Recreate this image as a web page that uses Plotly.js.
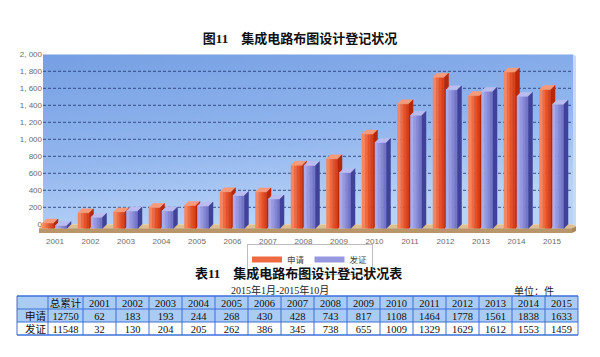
<!DOCTYPE html>
<html>
<head>
<meta charset="utf-8">
<script src="https://cdn.plot.ly/plotly-3.0.1.min.js"></script>
<style>html,body{margin:0;padding:0;background:#fff;}#chart{width:600px;height:357px;}</style>
</head>
<body>
<div id="chart"></div>
<script>
// ---- data ----
const years = ['2001','2002','2003','2004','2005','2006','2007','2008','2009','2010','2011','2012','2013','2014','2015'];
const applyCounts = [62,183,193,244,268,430,428,743,817,1108,1464,1778,1561,1838,1633];
const grantCounts = [32,130,204,205,262,386,345,738,655,1009,1329,1629,1612,1553,1459];
const applyTotal = 12750;
const grantTotal = 11548;
const seriesNames = ['申请','发证'];
const yTickVals = [0,200,400,600,800,1000,1200,1400,1600,1800,2000];
const yTickText = ['0','200','400','600','800','1, 000','1, 200','1, 400','1, 600','1, 800','2, 000'];
const tableHeader = ['', '总累计'].concat(years);

// ---- geometry (pixels -> data units) ----
const W = 600, H = 357;
const plotL = 36, plotR = 577, plotT = 50, plotB = 235;
const cat0Px = 55, zeroPx = 224.3;
const PXX = 35.5;          // px per category
const PXY = 0.085;         // px per unit value
const DX = 4 / PXX, DY = 4 / PXY;
const xRange = [-(cat0Px - plotL) / PXX, (plotR - cat0Px) / PXX];
const yRange = [-(plotB - zeroPx) / PXY, (zeroPx - plotT) / PXY];
const wallL = (43 - cat0Px) / PXX, wallR = (573 - cat0Px) / PXX;
const wallTop = 2000;

function buildFaces(vals, leftPx, rightPx, nStrips) {
  const strips = [];
  for (let s = 0; s < nStrips; s++) strips.push({x: [], y: []});
  const top = {x: [], y: []}, side = {x: [], y: []};
  const push = (o, pts) => { pts.forEach(p => { o.x.push(p[0]); o.y.push(p[1]); }); o.x.push(null); o.y.push(null); };
  vals.forEach((v, i) => {
    const x0 = i + leftPx / PXX, x1 = i + rightPx / PXX;
    for (let s = 0; s < nStrips; s++) {
      const xa = x0 + (x1 - x0) * s / nStrips, xb = x0 + (x1 - x0) * (s + 1) / nStrips;
      push(strips[s], [[xa, -DY], [xb, -DY], [xb, v - DY], [xa, v - DY], [xa, -DY]]);
    }
    push(top, [[x0, v - DY], [x1, v - DY], [x1 + DX, v], [x0 + DX, v], [x0, v - DY]]);
    push(side, [[x1, -DY], [x1 + DX, 0], [x1 + DX, v], [x1, v - DY], [x1, -DY]]);
  });
  return {strips, top, side};
}

function polyTrace(o, color, name, showlegend) {
  return {type: 'scatter', mode: showlegend ? 'none' : 'lines', x: o.x, y: o.y, fill: 'toself', fillcolor: color,
    line: {color: color, width: 0.5}, hoverinfo: 'skip', name: name || '', showlegend: !!showlegend,
    legendgroup: name || undefined};
}

const series = [
  {vals: applyCounts, l: -12.5, r: -1, strips: ['#f6845e', '#ef6a40', '#e55228', '#d9401a'], top: '#f79a7a', side: '#b5280a', name: seriesNames[0]},
  {vals: grantCounts, l: 0.5, r: 12, strips: ['#a9abea', '#9799e0', '#8587d4', '#7375c6'], top: '#babcf0', side: '#40429a', name: seriesNames[1]}
];

const traces = [];
series.forEach(sr => {
  const f = buildFaces(sr.vals, sr.l, sr.r, sr.strips.length);
  f.strips.forEach((st, k) => traces.push(polyTrace(st, sr.strips[k], sr.name, k === 1)));
  traces.push(polyTrace(f.top, sr.top, sr.name, false));
  traces.push(polyTrace(f.side, sr.side, sr.name, false));
});

// ---- table ----
const cellCols = [seriesNames.slice()];
cellCols.push([applyTotal, grantTotal]);
years.forEach((y, i) => cellCols.push([applyCounts[i], grantCounts[i]]));
const colWidths = [31, 35].concat(years.map(() => 33));
const aligns = ['left'].concat(cellCols.slice(1).map(() => 'center'));
const serif = 'Liberation Serif, Noto Sans CJK SC, serif';
const clear = 'rgba(0,0,0,0)';
const tblL = 17, tblT = 296, rowH = 13, textLift = 4.5;
const tblR = tblL + colWidths.reduce((a, b) => a + b, 0);
const tblB = tblT + rowH * 3;

traces.push({
  type: 'table',
  domain: {x: [tblL / W, tblR / W], y: [1 - (tblB + 12) / H, 1 - (tblT - textLift) / H]},
  columnwidth: colWidths,
  header: {values: tableHeader, height: rowH, align: aligns,
    fill: {color: clear}, line: {color: clear, width: 0},
    font: {family: serif, size: 10.5, color: '#111'}},
  cells: {values: cellCols, height: rowH, align: aligns,
    fill: {color: clear}, line: {color: clear, width: 0},
    font: {family: serif, size: 10.5, color: '#111'}}
});

// ---- decoration ----
const grad = "<svg xmlns='http://www.w3.org/2000/svg' width='100' height='100' preserveAspectRatio='none'>" +
  "<defs><linearGradient id='g' x1='0' y1='0' x2='0.35' y2='1'>" +
  "<stop offset='0' stop-color='#759fe3'/><stop offset='0.6' stop-color='#93b7ee'/><stop offset='1' stop-color='#b9d3f7'/>" +
  "</linearGradient></defs><rect width='100' height='100' fill='url(#g)'/></svg>";
const gradSrc = 'data:image/svg+xml;charset=utf-8,' + encodeURIComponent(grad);

const shapes = [];
yTickVals.filter(v => v > 0 && v < wallTop).forEach(v => shapes.push({
  type: 'line', xref: 'x', yref: 'y', x0: wallL, x1: wallR, y0: v, y1: v, layer: 'between',
  line: {color: 'rgba(35,60,120,0.85)', width: 1, dash: '3px,2px'}
}));
// right side wall edge
shapes.push({type: 'path', xref: 'x', yref: 'y', layer: 'between', line: {width: 0}, fillcolor: '#c6dbf8',
  path: `M ${wallR},0 L ${wallR + 3 / PXX},${-2 / PXY} L ${wallR + 3 / PXX},${wallTop - 2 / PXY} L ${wallR},${wallTop} Z`});
// floor top
const fy = -(233 - zeroPx) / PXY;
shapes.push({type: 'path', xref: 'x', yref: 'y', layer: 'between', line: {width: 0}, fillcolor: '#dcc093',
  path: `M ${wallL - DX},${-DY} L ${wallR - DX + 3 / PXX},${-DY} L ${wallR + 3 / PXX},${-2 / PXY} L ${wallR},0 L ${wallL},0 Z`});
// floor front edge
shapes.push({type: 'path', xref: 'x', yref: 'y', layer: 'between', line: {width: 0}, fillcolor: '#b99669',
  path: `M ${wallL - DX},${-DY} L ${wallR - DX + 3 / PXX},${-DY} L ${wallR - DX + 3 / PXX},${fy} L ${wallL - DX},${fy} Z`});
shapes.push({type: 'path', xref: 'x', yref: 'y', layer: 'between', line: {width: 0}, fillcolor: '#a9865a',
  path: `M ${wallR - DX + 3 / PXX},${-DY} L ${wallR + 3 / PXX},${-2 / PXY} L ${wallR + 3 / PXX},${fy + DY - 2 / PXY} L ${wallR - DX + 3 / PXX},${fy} Z`});

// table backgrounds and rules (paper coords)
const py = p => 1 - p / H, pxp = p => p / W;
const blueFill = '#a9cbf4', rule = '#3d70d8';
shapes.push({type: 'rect', xref: 'paper', yref: 'paper', layer: 'below', line: {width: 0}, fillcolor: blueFill,
  x0: pxp(tblL), x1: pxp(tblR), y0: py(tblT), y1: py(tblT + 2 * rowH)});
[tblT, tblT + rowH, tblT + 2 * rowH, tblB].forEach((yy, k) => shapes.push({type: 'line', xref: 'paper', yref: 'paper', layer: 'below',
  x0: pxp(tblL), x1: pxp(tblR), y0: py(yy), y1: py(yy), line: {color: rule, width: (k === 0 || k === 3) ? 1.6 : 1}}));
const colEdges = [tblL];
colWidths.forEach(w => colEdges.push(colEdges[colEdges.length - 1] + w));
colEdges.forEach(xx => shapes.push({type: 'line', xref: 'paper', yref: 'paper', layer: 'below',
  x0: pxp(xx), x1: pxp(xx), y0: py(tblT), y1: py(tblB), line: {color: rule, width: 1}}));

const gray = '#6b6b6b';
const layout = {
  width: W, height: H,
  margin: {l: 0, r: 0, t: 0, b: 0},
  paper_bgcolor: '#ffffff', plot_bgcolor: 'rgba(0,0,0,0)',
  title: {text: '<b>图11　集成电路布图设计登记状况</b>', x: 0.5, xanchor: 'center', y: 1 - 38 / H, yref: 'container', yanchor: 'middle',
    font: {family: serif, size: 13, color: '#111'}},
  xaxis: {domain: [plotL / W, plotR / W], range: xRange, tickvals: years.map((y, i) => i), ticktext: years,
    showgrid: false, zeroline: false, showline: false, ticks: '', fixedrange: true,
    tickfont: {family: 'Liberation Sans, DejaVu Sans, sans-serif', size: 8, color: gray}},
  yaxis: {domain: [1 - plotB / H, 1 - plotT / H], range: yRange, tickvals: yTickVals, ticktext: yTickText,
    showgrid: false, zeroline: false, showline: false, ticks: '', ticklabelstandoff: -7, fixedrange: true,
    tickfont: {family: 'Liberation Sans, DejaVu Sans, sans-serif', size: 8, color: gray}},
  images: [{source: gradSrc, xref: 'x', yref: 'y', x: wallL, y: wallTop, sizex: wallR - wallL, sizey: wallTop,
    xanchor: 'left', yanchor: 'top', sizing: 'stretch', layer: 'below'}],
  shapes: shapes,
  showlegend: true,
  legend: {orientation: 'h', x: 310 / W, xanchor: 'center', y: 1 - 244 / H, yanchor: 'top',
    bgcolor: '#ffffff', bordercolor: '#bdbdbd', borderwidth: 1, itemwidth: 30, tracegroupgap: 0,
    font: {family: 'Noto Sans CJK SC, sans-serif', size: 8.5, color: '#444'}},
  annotations: [
    {text: '<b>表11　集成电路布图设计登记状况表</b>', xref: 'paper', yref: 'paper', x: 298 / W, y: 1 - 273 / H,
      xanchor: 'center', yanchor: 'middle', showarrow: false, font: {family: serif, size: 13, color: '#111'}},
    {text: '2015年1月-2015年10月', xref: 'paper', yref: 'paper', x: 280 / W, y: 1 - 290 / H,
      xanchor: 'center', yanchor: 'middle', showarrow: false, font: {family: serif, size: 10, color: '#222'}},
    {text: '单位：件', xref: 'paper', yref: 'paper', x: 534 / W, y: 1 - 291 / H,
      xanchor: 'center', yanchor: 'middle', showarrow: false, font: {family: serif, size: 10, color: '#222'}}
  ]
};

Plotly.newPlot('chart', traces, layout, {displayModeBar: false, staticPlot: true});
</script>
</body>
</html>
